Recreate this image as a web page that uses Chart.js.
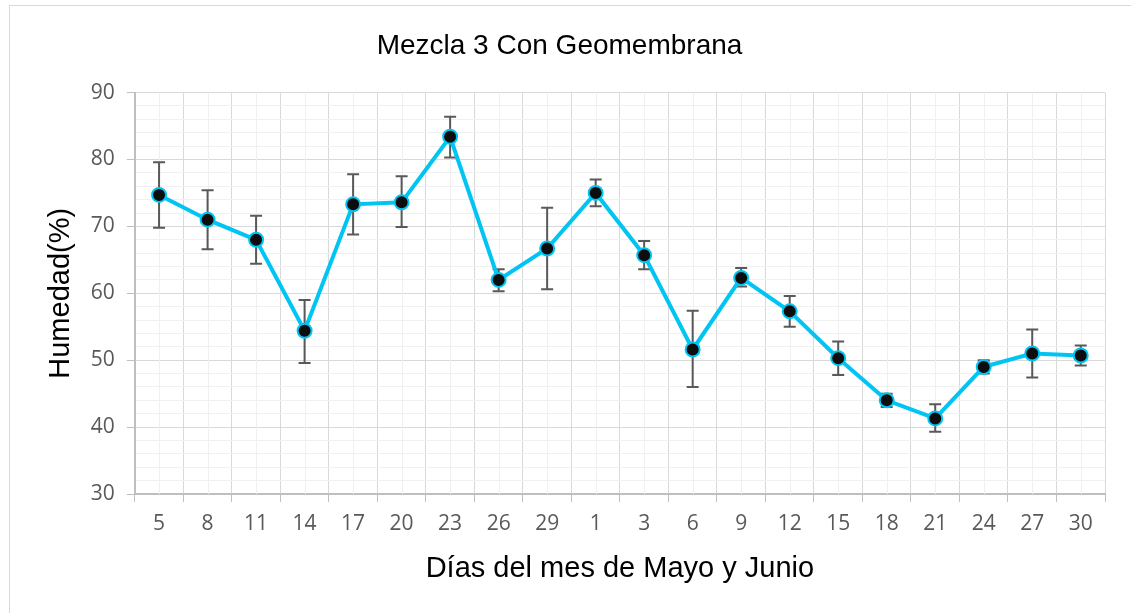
<!DOCTYPE html>
<html>
<head>
<meta charset="utf-8">
<script src="https://cdn.jsdelivr.net/npm/chart.js@4.4.0/dist/chart.umd.min.js"></script>
<style>
  html, body { margin: 0; padding: 0; background: #fff; }
  #wrap { width: 1131px; height: 613px; }
</style>
</head>
<body>
<div id="wrap"><canvas id="humedadChart" width="1131" height="613"></canvas></div>
<script>
const dias = ['5', '8', '11', '14', '17', '20', '23', '26', '29', '1', '3', '6', '9', '12', '15', '18', '21', '24', '27', '30'];
const humedad = [74.7, 71.0, 68.0, 54.4, 73.3, 73.6, 83.4, 62.0, 66.7, 75.0, 65.7, 51.6, 62.3, 57.3, 50.3, 44.0, 41.3, 49.0, 51.0, 50.7];
const errAlto = [79.6, 75.4, 71.6, 59.0, 77.8, 77.5, 86.4, 63.6, 72.8, 77.0, 67.8, 57.4, 63.8, 59.6, 52.8, 45.0, 43.4, 50.0, 54.6, 52.2];
const errBajo = [69.8, 66.6, 64.4, 49.6, 68.8, 69.9, 80.3, 60.3, 60.6, 73.0, 63.6, 46.0, 61.0, 55.0, 47.8, 43.0, 39.3, 48.0, 47.4, 49.2];

// marco exterior + lineas menores verticales
const fondo = {
    id: 'fondo',
    beforeDraw(chart) {
        const ctx = chart.ctx;
        ctx.save();
        ctx.strokeStyle = '#d9d9d9';
        ctx.lineWidth = 1;
        ctx.strokeRect(9.5, 5.5, 1300, 800);
        ctx.restore();
    },
    beforeDatasetsDraw(chart) {
        const ctx = chart.ctx;
        const x = chart.scales.x;
        const area = chart.chartArea;
        ctx.save();
        ctx.strokeStyle = '#f0f0f0';
        ctx.lineWidth = 1;
        dias.forEach((d, i) => {
            const px = Math.round(x.getPixelForValue(i)) + 0.5;
            ctx.beginPath();
            ctx.moveTo(px, area.top);
            ctx.lineTo(px, area.bottom);
            ctx.stroke();
        });
        ctx.restore();
    }
};

// barras de error
const barrasError = {
    id: 'barrasError',
    beforeDatasetsDraw(chart) {
        const ctx = chart.ctx;
        const x = chart.scales.x;
        const y = chart.scales.y;
        ctx.save();
        ctx.strokeStyle = '#595959';
        ctx.lineWidth = 2;
        humedad.forEach((v, i) => {
            const px = x.getPixelForValue(i);
            const top = y.getPixelForValue(errAlto[i]);
            const bot = y.getPixelForValue(errBajo[i]);
            ctx.beginPath();
            ctx.moveTo(px, top);
            ctx.lineTo(px, bot);
            ctx.moveTo(px - 6, top);
            ctx.lineTo(px + 6, top);
            ctx.moveTo(px - 6, bot);
            ctx.lineTo(px + 6, bot);
            ctx.stroke();
        });
        ctx.restore();
    }
};

const ctx = document.getElementById('humedadChart').getContext('2d');
new Chart(ctx, {
    type: 'line',
    data: {
        labels: dias,
        datasets: [{
            label: 'Humedad',
            data: humedad,
            borderColor: '#00c5f3',
            borderWidth: 4,
            pointRadius: 7,
            pointBackgroundColor: '#0d0d0d',
            pointBorderColor: '#00c5f3',
            pointBorderWidth: 2,
            tension: 0
        }]
    },
    options: {
        responsive: false,
        animation: false,
        layout: { padding: { left: 14, right: 26, top: 20, bottom: 27 } },
        plugins: {
            legend: { display: false },
            tooltip: { enabled: false },
            title: {
                display: true,
                text: 'Mezcla 3 Con Geomembrana',
                color: '#000',
                font: { family: 'Liberation Sans', size: 28, weight: 'normal' },
                padding: { top: 9, bottom: 30 }
            }
        },
        scales: {
            x: {
                offset: true,
                grid: {
                    offset: true,
                    color: '#d9d9d9',
                    lineWidth: 1,
                    tickLength: 8,
                    tickColor: '#bfbfbf'
                },
                border: { color: '#bfbfbf', width: 2 },
                ticks: {
                    color: '#595959',
                    font: { family: 'Open Sans', size: 21 },
                    padding: 9,
                    maxRotation: 0,
                    autoSkip: false
                },
                title: {
                    display: true,
                    text: 'Días del mes de Mayo y Junio',
                    color: '#000',
                    font: { family: 'Liberation Sans', size: 29 },
                    padding: { top: 6, bottom: 0 }
                }
            },
            y: {
                min: 30,
                max: 90,
                grid: {
                    color: c => (c.tick.value % 10 === 0 ? '#d9d9d9' : '#f0f0f0'),
                    lineWidth: 1,
                    tickLength: 8,
                    tickColor: c => (c.tick.value % 10 === 0 ? '#bfbfbf' : 'rgba(0,0,0,0)')
                },
                border: { color: '#bfbfbf', width: 2 },
                ticks: {
                    stepSize: 2,
                    autoSkip: false,
                    color: '#595959',
                    font: { family: 'Open Sans', size: 21 },
                    padding: 12,
                    callback: v => (v % 10 === 0 ? v : '')
                },
                title: {
                    display: true,
                    text: 'Humedad(%)',
                    color: '#000',
                    font: { family: 'Liberation Sans', size: 29 },
                    padding: { top: 30, bottom: 0 }
                }
            }
        }
    },
    plugins: [fondo, barrasError]
});
</script>
</body>
</html>
